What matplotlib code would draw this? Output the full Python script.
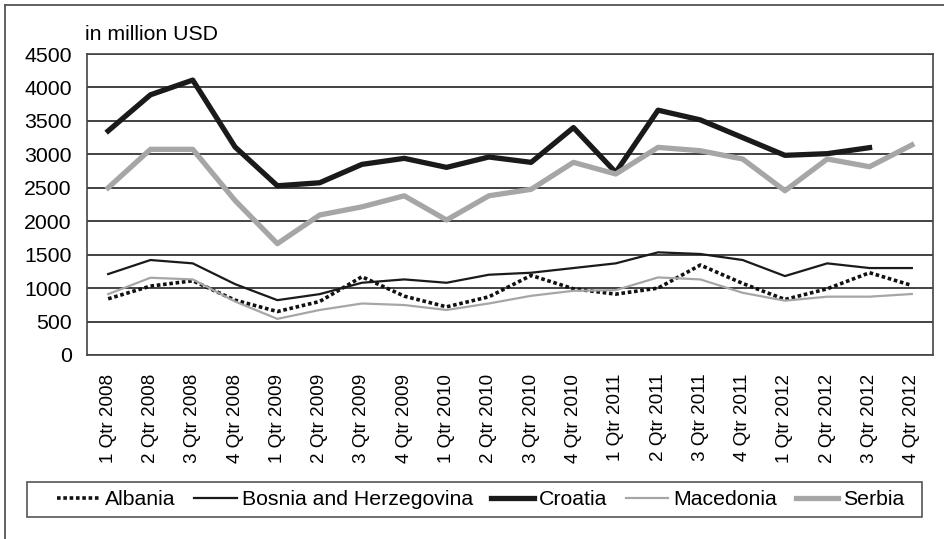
import matplotlib.pyplot as plt
import matplotlib.lines as mlines
import matplotlib.patches as mpatches
import numpy as np

plt.rcParams['font.family'] = ['Liberation Sans', 'DejaVu Sans']

# quarters 2008 - 2012
quarters = [f"{q} Qtr {y}" for y in range(2008, 2013) for q in range(1, 5)]

albania = [840, 1030, 1110, 820, 650, 800, 1170, 880, 720, 870,
           1190, 990, 910, 1000, 1345, 1070, 830, 990, 1230, 1040]
bosnia = [1210, 1420, 1370, 1060, 820, 910, 1080, 1130, 1080, 1200,
          1230, 1300, 1370, 1535, 1510, 1420, 1180, 1370, 1300, 1300]
croatia = [3350, 3890, 4110, 3110, 2530, 2575, 2850, 2940, 2805, 2960,
           2880, 3400, 2730, 3660, 3515, 3250, 2985, 3010, 3100, np.nan]
macedonia = [910, 1155, 1130, 800, 540, 673, 770, 747, 673, 770,
             885, 960, 970, 1160, 1130, 930, 812, 872, 872, 912]
serbia = [2500, 3075, 3075, 2310, 1665, 2093, 2215, 2380, 2018, 2380,
          2477, 2880, 2706, 3104, 3054, 2930, 2456, 2930, 2815, 3140]

fig = plt.figure(figsize=(9.44, 5.39), dpi=100)
ax = fig.add_axes([87/944, 1 - 355/539, 846/944, 301/539])

x = np.arange(len(quarters))
ax.plot(x, albania, color="#111111", lw=2.6, linestyle=(0, (1, 0.75)),
        dash_capstyle="butt", label="Albania", zorder=3)
ax.plot(x, bosnia, color="#1a1a1a", lw=1.6, label="Bosnia and Herzegovina", zorder=3)
ax.plot(x, croatia, color="#1a1a1a", lw=3.8, label="Croatia", zorder=3)
ax.plot(x, macedonia, color="#a6a6a6", lw=1.6, label="Macedonia", zorder=3)
ax.plot(x, serbia, color="#a6a6a6", lw=3.8, label="Serbia", zorder=3)

ax.set_xlim(-0.5, len(quarters) - 0.5)
ax.set_ylim(0, 4500)
ax.set_yticks(np.arange(0, 4501, 500))
ax.set_xticks(x)
ax.set_xticklabels(quarters, rotation=90, fontsize=13.6)
ax.tick_params(axis="y", length=0, pad=11, labelsize=15.3)
ax.tick_params(axis="x", length=0, pad=13.5)
ax.grid(axis="y", color="#222222", lw=1.2)
ax.set_axisbelow(True)
for s in ax.spines.values():
    s.set_color("#444444")
    s.set_linewidth(1.2)

fig.text(85/944, 1 - 40/539, "in million USD", fontsize=15.3, ha="left", va="baseline")

# legend entries, box drawn separately
leg = ax.legend(loc="center", bbox_to_anchor=(481/944, 1 - 499.5/539),
                bbox_transform=fig.transFigure, ncol=5, fontsize=15.3,
                frameon=False, handlelength=2.0, handletextpad=0.25,
                columnspacing=0.86, borderpad=0.0)
fig.add_artist(mpatches.Rectangle((27/944, 1 - 517/539), 895/944, 35/539,
                                  transform=fig.transFigure, fill=False,
                                  edgecolor="#555555", lw=1.2))

# outer chart frame (left and top only visible)
fig.add_artist(mlines.Line2D([5/944, 5/944], [0, 1 - 5/539], color="#555555", lw=1.3))
fig.add_artist(mlines.Line2D([5/944, 1], [1 - 5/539, 1 - 5/539], color="#555555", lw=1.3))

fig.savefig("out.png", dpi=100)
